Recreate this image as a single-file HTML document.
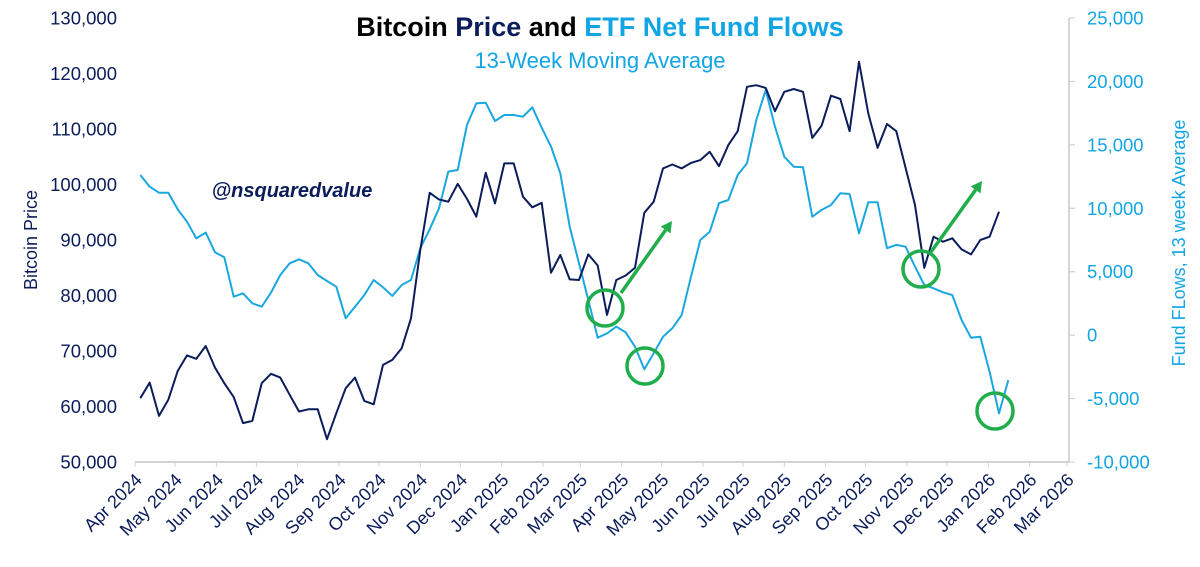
<!DOCTYPE html>
<html><head><meta charset="utf-8">
<style>
html,body{margin:0;padding:0;background:#fff;}
body{width:1200px;height:562px;overflow:hidden;font-family:"Liberation Sans",sans-serif;}
svg text{font-family:"Liberation Sans",sans-serif;}
</style></head>
<body>
<svg id="chart" width="1200" height="562" viewBox="0 0 1200 562" xmlns="http://www.w3.org/2000/svg">
<g id="title">
<text x="600" y="36" text-anchor="middle" font-size="27" font-weight="bold"><tspan fill="#000">Bitcoin </tspan><tspan fill="#0b1c5a">Price</tspan><tspan fill="#000"> and </tspan><tspan fill="#12a5e3">ETF Net Fund Flows</tspan></text>
<text x="600" y="68" text-anchor="middle" font-size="22" fill="#12a5e3">13-Week Moving Average</text>
</g>
<text x="292" y="197" text-anchor="middle" font-size="20" font-weight="bold" font-style="italic" fill="#0b1c5a">@nsquaredvalue</text>
<text transform="translate(37,240) rotate(-90)" text-anchor="middle" font-size="18" fill="#0b1c5a">Bitcoin Price</text>
<text transform="translate(1185,243) rotate(-90)" text-anchor="middle" font-size="18" fill="#12a5e3">Fund FLows, 13 week Average</text>
<g id="axes"></g>
<g id="series"></g>
<g id="annot"></g>
</svg>
<script>
const priceValues=[61500,64300,58300,61200,66400,69200,68600,70900,67000,64200,61700,57000,57400,64200,65900,65200,62100,59100,59500,59500,54100,58800,63300,65200,61000,60400,67500,68400,70500,75900,88200,98500,97300,96900,100100,97400,94200,102100,96600,103800,103800,97800,95900,96700,84100,87300,82900,82800,87400,85400,76500,82800,83600,85000,94900,96900,102900,103600,102900,103900,104400,105900,103300,107100,109600,117600,117900,117400,113200,116700,117200,116700,108400,110600,116000,115400,109600,122100,112800,106600,110900,109600,103000,96300,85000,90600,89700,90300,88300,87400,90000,90600,95100];
const flowValues=[12620,11700,11230,11230,9920,8940,7630,8080,6530,6140,3030,3300,2510,2240,3350,4740,5660,5980,5660,4740,4270,3820,1330,2240,3160,4350,3770,3090,3950,4350,6850,8340,10000,12890,13020,16570,18270,18320,16880,17350,17350,17220,17960,16350,14860,12760,8550,5660,2770,-200,140,670,220,-910,-2690,-1430,-120,540,1590,4610,7500,8150,10400,10650,12620,13550,16960,19320,16430,14070,13280,13230,9340,9870,10260,11180,11130,8030,10470,10470,6850,7110,6970,5400,3950,3690,3380,3160,1190,-200,-120,-2880,-6160,-3540];
const leftTicks=[50000,60000,70000,80000,90000,100000,110000,120000,130000];
const rightTicks=[-10000,-5000,0,5000,10000,15000,20000,25000];
const monthLabels=["Apr 2024","May 2024","Jun 2024","Jul 2024","Aug 2024","Sep 2024","Oct 2024","Nov 2024","Dec 2024","Jan 2025","Feb 2025","Mar 2025","Apr 2025","May 2025","Jun 2025","Jul 2025","Aug 2025","Sep 2025","Oct 2025","Nov 2025","Dec 2025","Jan 2026","Feb 2026","Mar 2026"];
const startDate=Date.UTC(2024,3,1), firstWeek=Date.UTC(2024,3,5);
const NS="http://www.w3.org/2000/svg";
const X0=135, PXD=1.3333, YT=18, YB=462;
const xDay=t=>X0+(t-startDate)/86400000*PXD;
const xWeek=i=>xDay(firstWeek+i*7*86400000);
const yL=v=>YB-(v-50000)/80000*(YB-YT);
const yR=v=>YB-(v+10000)/35000*(YB-YT);
function mk(tag,attrs,parent){const e=document.createElementNS(NS,tag);for(const k in attrs)e.setAttribute(k,attrs[k]);parent.appendChild(e);return e;}
const axes=document.getElementById('axes');
const xa=mk('line',{x1:X0,y1:YB,x2:1069,y2:YB,stroke:'#d3d3d3','stroke-width':2},axes);


const ra=mk('line',{x1:1069,y1:YT,x2:1069,y2:YB,stroke:'#c8c8c8','stroke-width':1.5},axes);


leftTicks.forEach(v=>{const t=mk('text',{x:117,y:yL(v)+6.5,'text-anchor':'end','font-size':18.5,fill:'#0b1c5a'},axes);t.textContent=v.toLocaleString('en-US');

});
rightTicks.forEach(v=>{mk('line',{x1:1069,y1:yR(v),x2:1075,y2:yR(v),stroke:'#c8c8c8'},axes);const t=mk('text',{x:1087,y:yR(v)+6.5,'font-size':18.5,fill:'#12a5e3'},axes);t.textContent=v.toLocaleString('en-US');

});
monthLabels.forEach((m,k)=>{const x=xDay(Date.UTC(2024,3+k,1));mk('line',{x1:x,y1:YB,x2:x,y2:YB+5,stroke:'#d3d3d3'},axes);
const t=mk('text',{transform:`translate(${x+8},${YB+19}) rotate(-45)`,'text-anchor':'end','font-size':18,fill:'#0b1c5a'},axes);t.textContent=m;

});
const ser=document.getElementById('series');
const fl=mk('polyline',{points:flowValues.map((v,i)=>xWeek(i).toFixed(1)+','+yR(v).toFixed(1)).join(' '),fill:'none',stroke:'#1aa7e0','stroke-width':2,'stroke-linejoin':'round'},ser);


const pl=mk('polyline',{points:priceValues.map((v,i)=>xWeek(i).toFixed(1)+','+yL(v).toFixed(1)).join(' '),fill:'none',stroke:'#0b1c5a','stroke-width':2,'stroke-linejoin':'round'},ser);


const an=document.getElementById('annot');
const G='#1fae4b';
[[605,308],[645,366],[921,269],[995,411]].forEach(c=>{const e=mk('circle',{cx:c[0],cy:c[1],r:18,fill:'none',stroke:G,'stroke-width':3.5},an);

});
[[621,293,672,221],[931,252,982,181]].forEach(a=>{const dx=a[2]-a[0],dy=a[3]-a[1],L=Math.hypot(dx,dy),ux=dx/L,uy=dy/L;
const bx=a[2]-ux*11,by=a[3]-uy*11;
const ln=mk('line',{x1:a[0],y1:a[1],x2:bx,y2:by,stroke:G,'stroke-width':3.5},an);


const hd=mk('polygon',{points:`${a[2]},${a[3]} ${bx-uy*6},${by+ux*6} ${bx+uy*6},${by-ux*6}`,fill:G},an);

});
</script>
</body></html>
